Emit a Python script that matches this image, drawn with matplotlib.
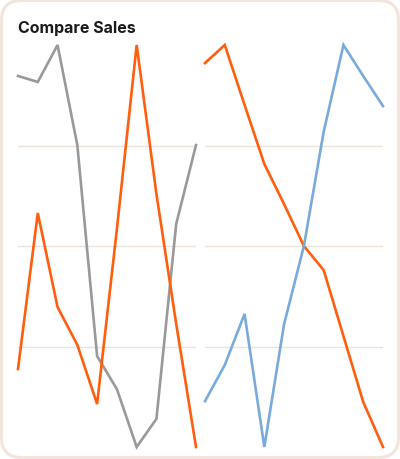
import matplotlib.pyplot as plt
from matplotlib.patches import FancyBboxPatch

# Sales values, each series on a 0-100 scale
months = list(range(10))
left_gray = [92.3, 90.8, 100, 75.1, 22.6, 14.4, 0, 7.0, 55.5, 75.1]
left_orange = [19.4, 58.2, 34.8, 25.4, 10.7, 54.2, 100, 62.9, 30.6, 0]
right_orange = [95.5, 100, 85.1, 70.4, 60.4, 50, 44.0, 27.6, 11.2, 0]
right_blue = [11.4, 20.4, 33.1, 0, 30.6, 50, 78.4, 100, 92.3, 84.8]
grid_levels = [25, 50, 75]

ORANGE = '#ff5e0e'
GRAY = '#999999'
BLUE = '#79aadc'
GRID = '#ede3dd'
BORDER = '#f3e4dc'

fig = plt.figure(figsize=(4, 4.6), dpi=100)

# card background with rounded border
bg = fig.add_axes([0, 0, 1, 1])
bg.set_xlim(0, 400)
bg.set_ylim(0, 460)
bg.axis('off')
card = FancyBboxPatch((1.5, 1.5), 397, 457, boxstyle='round,pad=0,rounding_size=20',
                      facecolor='white', edgecolor=BORDER, linewidth=2.2)
bg.add_patch(card)
bg.text(18, 431, 'Compare Sales', fontsize=11.5, fontweight='bold',
        family=['Inter', 'DejaVu Sans'], color='#1a1a1a', va='center', ha='left')


def panel(rect, series):
    ax = fig.add_axes(rect)
    ax.set_xlim(0, 9)
    ax.set_ylim(0, 100)
    for lv in grid_levels:
        ax.axhline(lv, color=GRID, linewidth=1, zorder=1)
    for vals, col in series:
        ax.plot(months, vals, color=col, linewidth=1.9, zorder=2,
                solid_joinstyle='miter', clip_on=False)
    for s in ax.spines.values():
        s.set_visible(False)
    ax.set_xticks([])
    ax.set_yticks([])
    ax.patch.set_alpha(0)
    return ax


bottom = 1 - 448 / 460
height = (448 - 46) / 460
panel([18 / 400, bottom, 178 / 400, height], [(left_gray, GRAY), (left_orange, ORANGE)])
panel([205 / 400, bottom, 178 / 400, height], [(right_orange, ORANGE), (right_blue, BLUE)])

fig.savefig('out.png', dpi=100)
